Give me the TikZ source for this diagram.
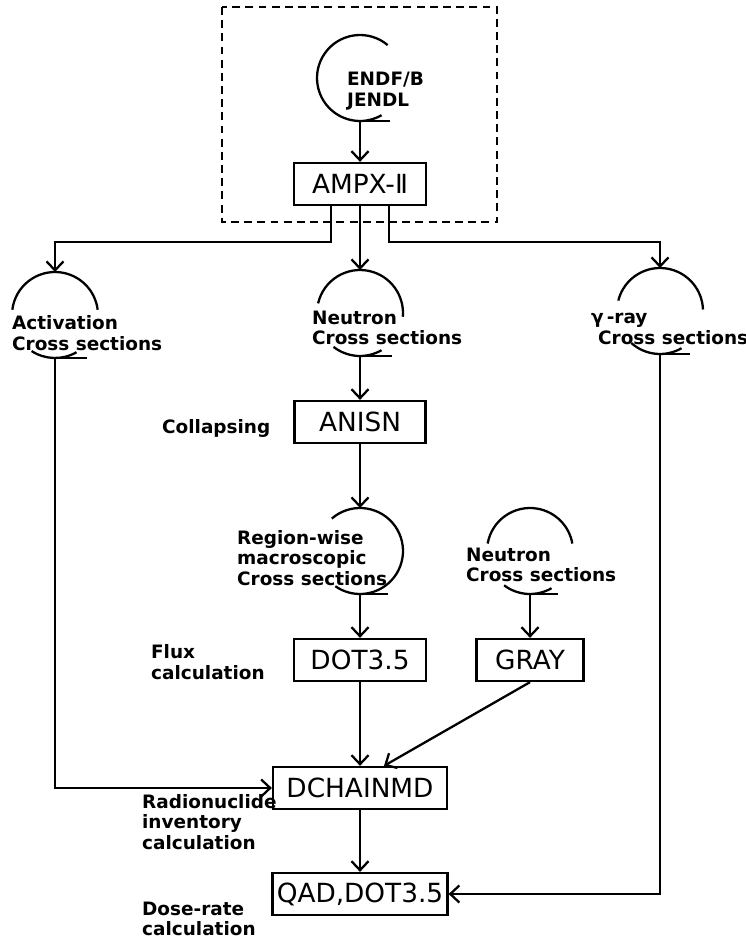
\documentclass[tikz,border=0pt]{standalone}
\usepackage{fontspec}
\setmainfont{DejaVu Sans}
\usepackage{tikz}
\usetikzlibrary{arrows.meta, positioning}

\begin{document}
\begin{tikzpicture}[
  x=0.02cm, y=0.02cm,
  >={Straight Barb[length=1.8mm, width=3.4mm]},
  line width=1.3pt,
  prog/.style={rectangle, draw, minimum height=0.84cm, inner sep=2pt, font=\fontsize{15}{17}\selectfont},
  tape/.style={circle, minimum size=1.72cm, inner sep=0pt, outer sep=0pt},
  note/.style={align=left, inner sep=0pt, font=\bfseries\fontsize{10.5}{11.6}\selectfont},
  arrow/.style={->}
]
  \useasboundingbox (0,0) rectangle (746,-942);

  % library and processing
  \draw[dashed, dash pattern=on 4.5pt off 3pt] (222,-7) rectangle (497,-222);
  \node[tape] (endf) at (360,-78) {};
  \node[note, anchor=west] (endft) at (346,-91) {ENDF/B\\JENDL};
  \node[prog, minimum width=2.64cm] (ampx) at (360,-184) {AMPX-Ⅱ};

  % cross section files
  \node[tape] (act) at (55,-315) {};
  \node[note, anchor=west] (actt) at (11,-333) {Activation\\Cross sections};
  \node[tape] (neu) at (360,-313) {};
  \node[note, anchor=west] (neut) at (311,-328) {Neutron\\Cross sections};
  \node[tape] (gam) at (660,-311) {};
  \node[note, anchor=west] (gamt) at (590,-329) {γ\,-ray\\\hspace*{4pt}Cross sections};

  \node[prog, minimum width=2.62cm] (anisn) at (360,-422) {ANISN};
  \node[note, anchor=west] (coll) at (161,-428) {Collapsing};

  \node[tape] (reg) at (360,-551) {};
  \node[note, anchor=west] (regt) at (236,-558) {Region-wise\\macroscopic\\Cross sections};
  \node[tape] (neu2) at (530,-551) {};
  \node[note, anchor=west] (neu2t) at (465,-565) {Neutron\\Cross sections};

  \node[prog, minimum width=2.64cm] (dot) at (360,-660) {DOT3.5};
  \node[note, anchor=west] (flux) at (150,-662) {Flux\\calculation};
  \node[prog, minimum width=2.14cm] (gray) at (530,-660) {GRAY};

  \node[prog, minimum width=3.48cm] (dch) at (360,-788) {DCHAINMD};
  \node[note, anchor=west] (inv) at (141,-822) {Radionuclide\\inventory\\calculation};
  \node[prog, minimum width=3.5cm] (qad) at (360,-894) {QAD,DOT3.5};
  \node[note, anchor=west] (dose) at (141,-919) {Dose-rate\\calculation};

  % tape outlines
  \draw (endf.50) arc[start angle=50, end angle=300, radius=0.86cm];
  \draw (endf.south) -- ++(30,0);
  \draw (act.173) arc[start angle=173, end angle=7, radius=0.86cm];
  \draw (act.237) arc[start angle=237, end angle=300, radius=0.86cm];
  \draw (act.south) -- ++(32,0);
  \draw (neu.167) arc[start angle=167, end angle=-5, radius=0.86cm];
  \draw (neu.232) arc[start angle=232, end angle=300, radius=0.86cm];
  \draw (neu.south) -- ++(32,0);
  \draw (gam.166) arc[start angle=166, end angle=2, radius=0.86cm];
  \draw (gam.228) arc[start angle=228, end angle=300, radius=0.86cm];
  \draw (gam.south) -- ++(30,0);
  \draw (reg.131) arc[start angle=131, end angle=-125, radius=0.86cm];
  \draw (reg.south) -- ++(28,0);
  \draw (neu2.170) arc[start angle=170, end angle=10, radius=0.86cm];
  \draw (neu2.233) arc[start angle=233, end angle=300, radius=0.86cm];
  \draw (neu2.south) -- ++(28,0);

  % flow
  \draw[arrow] (endf.south) -- (ampx.north);
  \draw[arrow] ([xshift=-0.58cm]ampx.south) -- ++(0,-36) -| (act.north);
  \draw[arrow] (ampx.south) -- (neu.north);
  \draw[arrow] ([xshift=0.58cm]ampx.south) -- ++(0,-36) -| (gam.north);
  \draw[arrow] (neu.south) -- (anisn.north);
  \draw[arrow] (anisn.south) -- (reg.north);
  \draw[arrow] (reg.south) -- (dot.north);
  \draw[arrow] (neu2.south) -- (gray.north);
  \draw[arrow] (dot.south) -- (dch.north);
  \draw[arrow] (gray.south) -- ([xshift=0.48cm]dch.north);
  \draw[arrow] (act.south) |- (dch.west);
  \draw[arrow] (dch.south) -- (qad.north);
  \draw[arrow] (gam.south) |- (qad.east);
\end{tikzpicture}
\end{document}
